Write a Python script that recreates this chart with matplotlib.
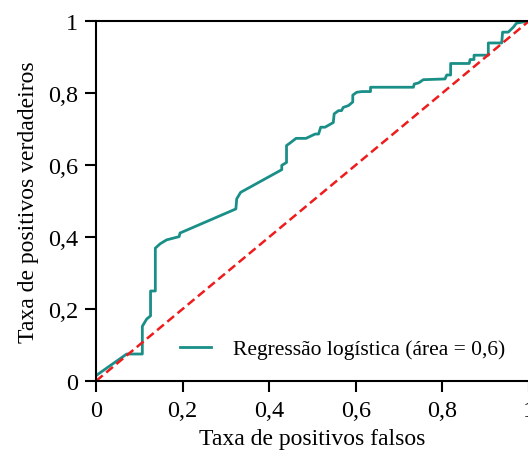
import numpy as np
import matplotlib
matplotlib.use("Agg")
import matplotlib.pyplot as plt
from matplotlib.ticker import FuncFormatter

plt.rcParams['font.family'] = ['Liberation Serif', 'DejaVu Serif']

# ROC curve
fpr = [0.0, 0.071, 0.107, 0.107, 0.117, 0.126, 0.126, 0.137, 0.137, 0.148, 0.163,
       0.192, 0.194, 0.323, 0.325, 0.334, 0.429, 0.429, 0.440, 0.440, 0.448, 0.462,
       0.485, 0.506, 0.514, 0.519, 0.529, 0.548, 0.550, 0.560, 0.567, 0.571, 0.583,
       0.593, 0.593, 0.602, 0.614, 0.634, 0.634, 0.733, 0.735, 0.745, 0.756, 0.806,
       0.810, 0.819, 0.819, 0.862, 0.864, 0.873, 0.873, 0.906, 0.906, 0.937, 0.939,
       0.952, 0.964, 0.971, 1.0]
tpr = [0.015, 0.075, 0.075, 0.152, 0.172, 0.181, 0.25, 0.25, 0.369, 0.381, 0.392,
       0.401, 0.411, 0.478, 0.506, 0.524, 0.587, 0.599, 0.607, 0.654, 0.661, 0.674,
       0.674, 0.686, 0.686, 0.705, 0.705, 0.718, 0.742, 0.751, 0.751, 0.760, 0.765,
       0.775, 0.794, 0.802, 0.804, 0.804, 0.816, 0.816, 0.825, 0.828, 0.837, 0.839,
       0.85, 0.85, 0.882, 0.882, 0.893, 0.893, 0.905, 0.905, 0.939, 0.939, 0.969,
       0.969, 0.983, 0.994, 1.0]
area = 0.6

fig = plt.figure(figsize=(5.28, 4.56), dpi=100)
ax = fig.add_axes([96/528, 74/456, 433/528, 360/456])

ax.plot(fpr, tpr, color='#1a8f88', lw=2, label='Regressão logística (área = %s)' % str(area).replace('.', ','))
ax.plot([0, 1], [0, 1], color='#ee1c1c', lw=1.8, ls=(0, (3.5, 1.8)))

ax.set_xlim(0, 1)
ax.set_ylim(0, 1)
ticks = [0, 0.2, 0.4, 0.6, 0.8, 1]
ax.set_xticks(ticks)
ax.set_yticks(ticks)
fmt = FuncFormatter(lambda v, p: ('%g' % round(v, 2)).replace('.', ','))
ax.xaxis.set_major_formatter(fmt)
ax.yaxis.set_major_formatter(fmt)
ax.tick_params(direction='out', length=8, width=1.5, labelsize=17.5)
ax.tick_params(axis='x', pad=6)
ax.tick_params(axis='y', pad=5)
for s in ['left', 'bottom', 'top']:
    ax.spines[s].set_linewidth(1.5)
ax.spines['right'].set_visible(False)

ax.set_xlabel('Taxa de positivos falsos', fontsize=17, labelpad=5)
ax.set_ylabel('Taxa de positivos verdadeiros', fontsize=17, labelpad=6)

ax.legend(loc='center right', bbox_to_anchor=(516/528, 1 - 350/456), bbox_transform=fig.transFigure,
          frameon=False, fontsize=15.5, handlelength=1.45, handletextpad=1.0, borderpad=0)

fig.savefig('out.png', dpi=100)
